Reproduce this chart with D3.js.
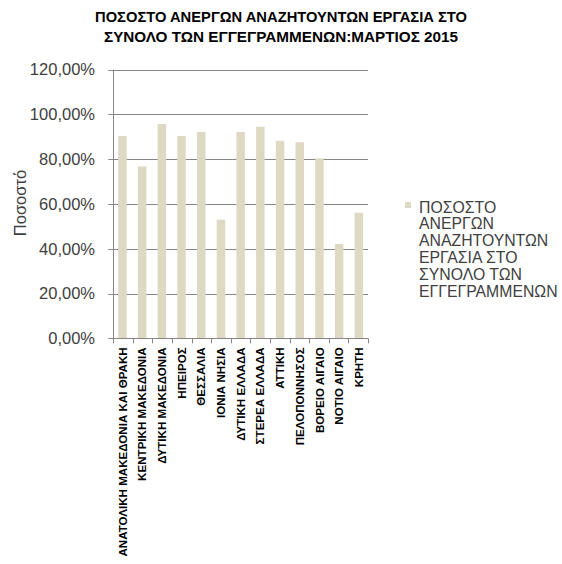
<!DOCTYPE html>
<html><head><meta charset="utf-8">
<script src="https://cdn.jsdelivr.net/npm/d3@7"></script>
<style>body{margin:0;background:#fff;} svg{display:block;font-family:"Liberation Sans",Arial,sans-serif;}</style>
</head><body>
<script>
const categories = ["ΑΝΑΤΟΛΙΚΗ ΜΑΚΕΔΟΝΙΑ ΚΑΙ ΘΡΑΚΗ","ΚΕΝΤΡΙΚΗ ΜΑΚΕΔΟΝΙΑ","ΔΥΤΙΚΗ ΜΑΚΕΔΟΝΙΑ","ΗΠΕΙΡΟΣ","ΘΕΣΣΑΛΙΑ","ΙΟΝΙΑ ΝΗΣΙΑ","ΔΥΤΙΚΗ ΕΛΛΑΔΑ","ΣΤΕΡΕΑ ΕΛΛΑΔΑ","ΑΤΤΙΚΗ","ΠΕΛΟΠΟΝΝΗΣΟΣ","ΒΟΡΕΙΟ ΑΙΓΑΙΟ","ΝΟΤΙΟ ΑΙΓΑΙΟ","ΚΡΗΤΗ"];
const values = [90.4, 76.8, 95.7, 90.4, 92.2, 53.0, 92.2, 94.5, 88.2, 87.6, 80.4, 42.1, 56.1];
const yTicks = [0, 20, 40, 60, 80, 100, 120];
const titleLines = ["ΠΟΣΟΣΤΟ ΑΝΕΡΓΩΝ ΑΝΑΖΗΤΟΥΝΤΩΝ ΕΡΓΑΣΙΑ ΣΤΟ","ΣΥΝΟΛΟ ΤΩΝ ΕΓΓΕΓΡΑΜΜΕΝΩΝ:ΜΑΡΤΙΟΣ 2015"];
const legendLines = ["ΠΟΣΟΣΤΟ","ΑΝΕΡΓΩΝ","ΑΝΑΖΗΤΟΥΝΤΩΝ","ΕΡΓΑΣΙΑ ΣΤΟ","ΣΥΝΟΛΟ ΤΩΝ","ΕΓΓΕΓΡΑΜΜΕΝΩΝ"];
const yTitle = "Ποσοστό";

const W = 562, H = 564;
const svg = d3.select("body").append("svg").attr("width", W).attr("height", H);
const pL = 113.3, pR = 368, pT = 69.7, pB = 338.3;
const x = d3.scaleBand().domain(categories).range([pL, pR]).paddingInner(0.57).paddingOuter(0.25);
const y = d3.scaleLinear().domain([0, 120]).range([pB, pT]);
const grid = "#868686";

// gridlines
svg.append("g").selectAll("line").data(yTicks).join("line")
  .attr("x1", pL - 5).attr("x2", pR).attr("y1", d => Math.round(y(d)) + 0.5).attr("y2", d => Math.round(y(d)) + 0.5)
  .attr("stroke", grid).attr("stroke-width", 1);

// y tick labels
svg.append("g").selectAll("text").data(yTicks).join("text")
  .attr("x", 95).attr("y", d => y(d)).attr("dy", "0.35em").attr("text-anchor", "end")
  .attr("font-size", 16.5).attr("fill", "#404040")
  .text(d => d.toFixed(2).replace(".", ",") + "%");

// bars
svg.append("g").selectAll("rect").data(values).join("rect")
  .attr("x", (d, i) => x(categories[i])).attr("width", x.bandwidth())
  .attr("y", d => y(d)).attr("height", d => y(0) - y(d))
  .attr("fill", "#DDD9C3");

// y axis line
svg.append("line").attr("x1", Math.round(pL) + 0.5).attr("x2", Math.round(pL) + 0.5)
  .attr("y1", pT).attr("y2", pB).attr("stroke", grid);
// x axis with ticks
const tickXs = d3.range(categories.length + 1).map(i => pL + i * (pR - pL) / categories.length);
svg.append("line").attr("x1", pL).attr("x2", pR).attr("y1", Math.round(pB) + 0.5).attr("y2", Math.round(pB) + 0.5).attr("stroke", grid);
svg.append("g").selectAll("line").data(tickXs).join("line")
  .attr("x1", d => Math.round(d) + 0.5).attr("x2", d => Math.round(d) + 0.5)
  .attr("y1", pB).attr("y2", pB + 5).attr("stroke", grid);

// x labels
svg.append("g").selectAll("text").data(categories).join("text")
  .attr("transform", d => `translate(${x(d) + x.bandwidth() / 2},${pB + 9}) rotate(-90)`)
  .attr("dy", "0.35em").attr("text-anchor", "end")
  .attr("font-size", 11.6).attr("font-weight", "bold").attr("fill", "#000")
  .text(d => d);

// y title
svg.append("text").attr("transform", `translate(20,203) rotate(-90)`)
  .attr("text-anchor", "middle").attr("dy", "0.35em").attr("font-size", 16.5).attr("fill", "#404040").text(yTitle);

// title
const tW = [372, 354];
svg.append("g").selectAll("text").data(titleLines).join("text")
  .attr("x", 281).attr("y", (d, i) => 22 + i * 20).attr("text-anchor", "middle")
  .attr("font-size", 14).attr("font-weight", "bold").attr("fill", "#000")
  .attr("textLength", (d, i) => tW[i]).attr("lengthAdjust", "spacingAndGlyphs")
  .text(d => d);

// legend
svg.append("rect").attr("x", 405).attr("y", 202).attr("width", 6).attr("height", 6).attr("fill", "#DDD9C3");
svg.append("g").selectAll("text").data(legendLines).join("text")
  .attr("x", 419).attr("y", (d, i) => 207 + i * 16.9).attr("dy", "0.35em")
  .attr("font-size", 15.8).attr("fill", "#404040").text(d => d);
</script>
</body></html>
